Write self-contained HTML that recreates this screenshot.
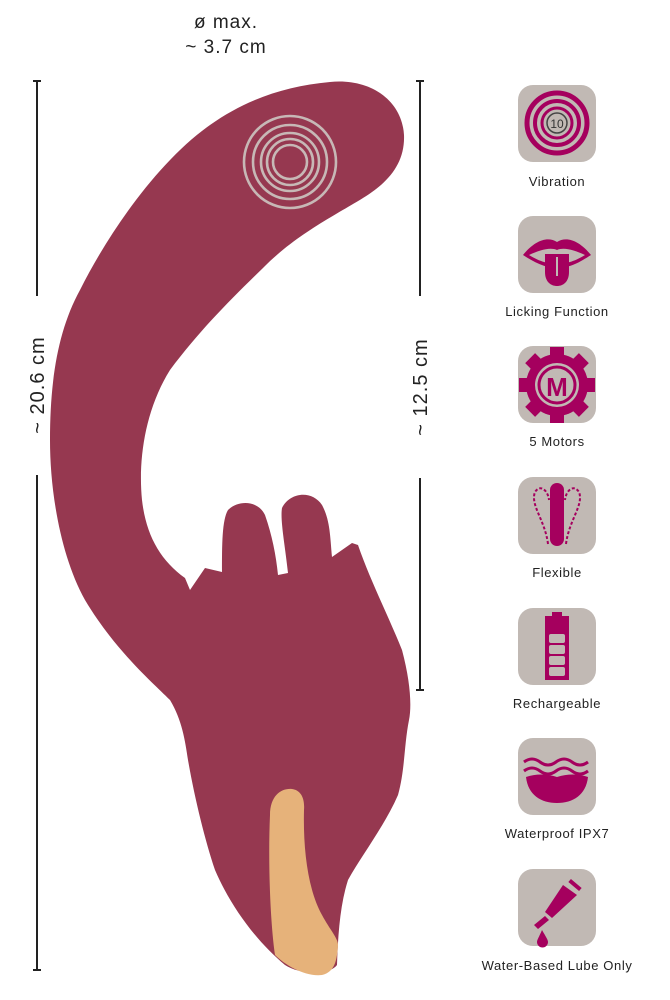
<!DOCTYPE html>
<html><head><meta charset="utf-8"><style>
html,body{margin:0;padding:0;background:#fff;}
svg{display:block}
text{font-family:"Liberation Sans",sans-serif;}
</style></head><body>
<svg width="670" height="1000" viewBox="0 0 670 1000" xmlns="http://www.w3.org/2000/svg">
<!-- top label -->
<text x="226" y="28" font-size="19" text-anchor="middle" fill="#222" letter-spacing="1">ø max.</text>
<text x="226" y="53" font-size="19" text-anchor="middle" fill="#222" letter-spacing="1">~  3.7 cm</text>
<!-- left dimension -->
<g stroke="#222" stroke-width="2">
<line x1="37" y1="81" x2="37" y2="296"/><line x1="33" y1="81" x2="41" y2="81"/>
<line x1="37" y1="475" x2="37" y2="970"/><line x1="33" y1="970" x2="41" y2="970"/>
<line x1="420" y1="81" x2="420" y2="296"/><line x1="416" y1="81" x2="424" y2="81"/>
<line x1="420" y1="478" x2="420" y2="690"/><line x1="416" y1="690" x2="424" y2="690"/>
</g>
<text transform="translate(44,385) rotate(-90)" font-size="20" text-anchor="middle" fill="#222" letter-spacing="1">~ 20.6 cm</text>
<text transform="translate(427,387) rotate(-90)" font-size="20" text-anchor="middle" fill="#222" letter-spacing="1">~ 12.5 cm</text>
<!-- body -->
<path fill="#963850" d="M330,82 C370,78 402,100 404,135 C405,160 392,178 372,192 C350,208 300,230 263,268 C230,300 200,330 170,370 C145,410 138,460 142,500 C146,535 160,560 185,578 L190,590 L205,568 L222,572 C222,545 222,520 228,510 C238,500 258,500 265,515 C272,535 276,555 278,575 L288,573 C285,545 280,520 282,508 C290,492 312,490 322,505 C330,520 330,535 332,557 L352,543 L358,545 C370,580 388,615 402,650 C410,680 412,705 409,720 C404,745 405,770 398,795 C385,825 362,855 348,880 C340,905 338,935 337,965 C330,975 300,975 285,965 C255,940 230,905 215,870 C205,840 195,800 188,760 C185,740 182,720 170,700 C150,680 115,650 85,600 C60,555 50,490 50,440 C50,380 58,330 80,290 C110,230 160,160 210,125 C245,100 285,86 330,82 Z"/>
<!-- tan -->
<path fill="#e6b27a" d="M270,815 C270,795 282,788 292,789 C300,790 305,797 304,810 C303,850 308,890 322,915 C330,930 338,938 338,945 C337,960 335,972 322,975 C305,977 285,965 275,955 C270,920 268,860 270,815 Z"/>
<!-- rings -->
<g fill="none" stroke="#c7b8b6" stroke-width="2.6">
<circle cx="290" cy="162" r="46"/><circle cx="290" cy="162" r="37"/><circle cx="290" cy="162" r="29"/><circle cx="290" cy="162" r="23"/><circle cx="290" cy="162" r="17"/>
</g>
<!-- icons -->
<g fill="#c1b9b4">
<rect x="518" y="85" width="78" height="77" rx="15"/>
<rect x="518" y="216" width="78" height="77" rx="15"/>
<rect x="518" y="346" width="78" height="77" rx="15"/>
<rect x="518" y="477" width="78" height="77" rx="15"/>
<rect x="518" y="608" width="78" height="77" rx="15"/>
<rect x="518" y="738" width="78" height="77" rx="15"/>
<rect x="518" y="869" width="78" height="77" rx="15"/>
</g>
<!-- vibration -->
<g fill="none" stroke="#a5005e">
<circle cx="557" cy="123" r="30" stroke-width="5"/><circle cx="557" cy="123" r="22" stroke-width="4"/><circle cx="557" cy="123" r="15" stroke-width="3"/><circle cx="557" cy="123" r="10" stroke-width="1.5" stroke="#444"/>
</g>
<text x="557" y="128" font-size="12" text-anchor="middle" fill="#333">10</text>
<!-- licking -->
<path fill="#a5005e" d="M523,255 C535,240 548,236 557,242 C566,236 579,240 591,255 C580,262 570,268 557,268 C545,268 534,262 523,255 Z M529,255 C540,262 550,264 557,264 C564,264 574,262 585,255 C574,250 564,247 557,250 C550,247 540,250 529,255 Z"/>
<path fill="#a5005e" d="M545,254 L569,254 L569,272 C569,282 563,286 557,286 C551,286 545,282 545,272 Z"/>
<line x1="557" y1="257" x2="557" y2="276" stroke="#c1b9b4" stroke-width="2"/>
<!-- motors -->
<g fill="#a5005e">
<circle cx="557" cy="385" r="31"/>
<g transform="translate(557,385)">
<rect x="-7" y="-38" width="14" height="12"/><rect x="-7" y="26" width="14" height="12"/>
<rect x="-38" y="-7" width="12" height="14"/><rect x="26" y="-7" width="12" height="14"/>
<rect x="-7" y="-38" width="14" height="12" transform="rotate(45)"/><rect x="-7" y="-38" width="14" height="12" transform="rotate(135)"/>
<rect x="-7" y="-38" width="14" height="12" transform="rotate(225)"/><rect x="-7" y="-38" width="14" height="12" transform="rotate(315)"/>
</g></g>
<circle cx="557" cy="385" r="22" fill="#c1b9b4"/>
<circle cx="557" cy="385" r="18" fill="none" stroke="#a5005e" stroke-width="3"/>
<text x="557" y="396" font-size="26" font-weight="bold" text-anchor="middle" fill="#a5005e">M</text>
<!-- flexible -->
<rect x="550" y="483" width="14" height="63" rx="7" fill="#a5005e"/>
<path d="M548,544 C545,520 530,505 535,492 C540,484 548,490 549,500 M566,544 C569,520 584,505 579,492 C574,484 566,490 565,500" fill="none" stroke="#a5005e" stroke-width="2" stroke-dasharray="3,2"/>
<!-- battery -->
<rect x="552" y="612" width="10" height="5" fill="#a5005e"/>
<rect x="545" y="616" width="24" height="64" fill="#a5005e"/>
<g fill="#c1b9b4"><rect x="549" y="634" width="16" height="9" rx="2"/><rect x="549" y="645" width="16" height="9" rx="2"/><rect x="549" y="656" width="16" height="9" rx="2"/><rect x="549" y="667" width="16" height="9" rx="2"/></g>
<!-- waterproof -->
<path d="M524,762 q8,-6 16,0 t16,0 t16,0 t16,0 M524,771 q8,-6 16,0 t16,0 t16,0 t16,0" fill="none" stroke="#a5005e" stroke-width="3"/>
<path d="M526,777 Q541,772 557,777 Q573,772 588,777 C586,795 573,803 557,803 C541,803 528,795 526,777 Z" fill="#a5005e"/>
<!-- lube -->
<path d="M563,885 L577,895 L552,918 L545,912 Z" fill="#a5005e"/>
<rect x="568" y="883" width="14" height="4" fill="#a5005e" transform="rotate(40 575 885)"/>
<path d="M545,916 L549,920 L538,929 L534,925 Z" fill="#a5005e"/>
<path d="M542,930 C546,937 548,940 548,942 A5,5 0 0 1 537,942 C537,940 539,937 542,930 Z" fill="#a5005e"/>
<!-- labels -->
<g font-size="13" fill="#222" text-anchor="middle" letter-spacing="0.6">
<text x="557" y="186">Vibration</text>
<text x="557" y="316">Licking Function</text>
<text x="557" y="446">5 Motors</text>
<text x="557" y="577">Flexible</text>
<text x="557" y="708">Rechargeable</text>
<text x="557" y="838">Waterproof IPX7</text>
<text x="557" y="970">Water-Based Lube Only</text>
</g>
</svg>
</body></html>
